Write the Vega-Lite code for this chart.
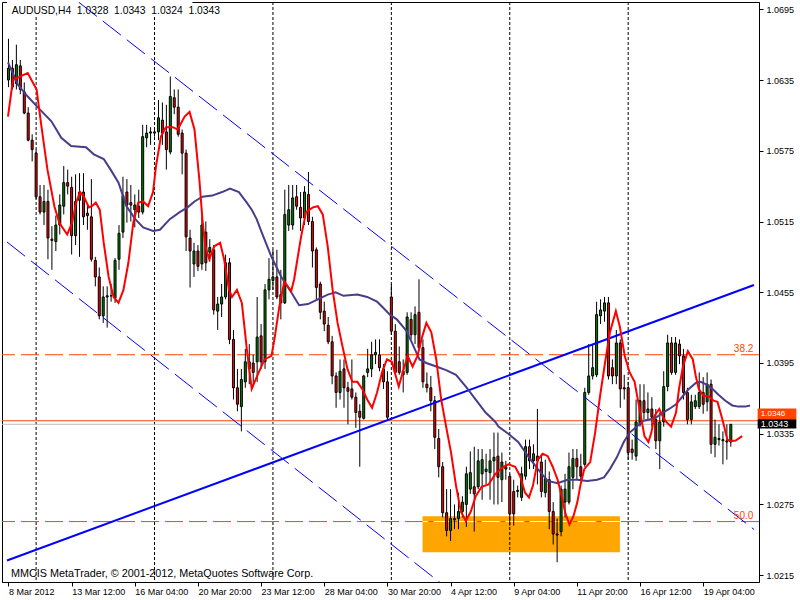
{
"$schema":"https://vega.github.io/schema/vega-lite/v6.json",
"width":757,"height":580,
"autosize":{"type":"none"},
"padding":{"left":2,"top":2,"right":41,"bottom":18},
"background":"white",
"config":{"view":{"stroke":"black","strokeWidth":1},
 "axisX":{"orient":"bottom","labelExpr":"['8 Mar 2012','13 Mar 12:00','16 Mar 04:00','20 Mar 20:00','23 Mar 12:00','28 Mar 04:00','30 Mar 20:00','4 Apr 12:00','9 Apr 04:00','11 Apr 20:00','16 Apr 12:00','19 Apr 04:00'][round(datum.value/16)]","labelAlign":"left","labelBaseline":"top","labelPadding":1,"tickSize":4,"tickColor":"black","domainColor":"black","labelColor":"black","labelFont":"Liberation Sans","labelFontSize":9,"grid":false,"title":null,"labelOverlap":false,"labelFlush":false,"labelBound":false},
 "axisY":{"orient":"right","format":".4f","tickSize":4,"labelPadding":3,"labelFontSize":9,"labelFont":"Liberation Sans","labelColor":"black","tickColor":"black","domainColor":"black","grid":false,"title":null,"labelOverlap":false,"labelFlush":false,"labelBound":false}
},
"datasets":{
"zone":[{"i":104.9,"i2":154.9,"v":1.0265,"v2":1.02345}],
"vgrid":[{"i":7},{"i":37},{"i":67},{"i":97},{"i":127},{"i":157}],
"hdrbg":[{"i":-0.375,"i2":46.6,"v":1.06898,"v2":1.070119}],
"fib":[{"v":1.0402},{"v":1.02605}],
"fibwhite":[{"i":104.9,"i2":154.9,"v":1.02605}],
"quote":[{"k":"ask","v":1.0346},{"k":"bid","v":1.0343}],
"channel":[{"g":"u","i":17.8,"v":1.0701},{"g":"u","i":188.875,"v":1.02538},{"g":"l","i":-0.375,"v":1.04976},{"g":"l","i":110,"v":1.0207}],
"trend":[{"i":-0.375,"v":1.02275},{"i":188.875,"v":1.04612}],
"candles":[
{"i":0,"o":1.0635,"h":1.0670,"l":1.0629,"c":1.0645},
{"i":1,"o":1.0645,"h":1.0652,"l":1.0627,"c":1.0629},
{"i":2,"o":1.0632,"h":1.0665,"l":1.0627,"c":1.0648},
{"i":3,"o":1.0647,"h":1.0652,"l":1.0623,"c":1.0627},
{"i":4,"o":1.0625,"h":1.0633,"l":1.0606,"c":1.0607},
{"i":5,"o":1.0607,"h":1.0612,"l":1.0583,"c":1.0584},
{"i":6,"o":1.0584,"h":1.0589,"l":1.0566,"c":1.0576},
{"i":7,"o":1.0573,"h":1.0576,"l":1.0534,"c":1.0536},
{"i":8,"o":1.0536,"h":1.0546,"l":1.0521,"c":1.0523},
{"i":9,"o":1.0523,"h":1.0546,"l":1.0512,"c":1.0532},
{"i":10,"o":1.0532,"h":1.0542,"l":1.0483,"c":1.0501},
{"i":11,"o":1.0500,"h":1.0511,"l":1.0474,"c":1.0499},
{"i":12,"o":1.0498,"h":1.0520,"l":1.0490,"c":1.0512},
{"i":13,"o":1.0512,"h":1.0538,"l":1.0504,"c":1.0529},
{"i":14,"o":1.0528,"h":1.0562,"l":1.0521,"c":1.0548},
{"i":15,"o":1.0548,"h":1.0559,"l":1.0538,"c":1.0545},
{"i":16,"o":1.0544,"h":1.0553,"l":1.0487,"c":1.0503},
{"i":17,"o":1.0503,"h":1.0555,"l":1.0495,"c":1.0532},
{"i":18,"o":1.0533,"h":1.0556,"l":1.0485,"c":1.0540},
{"i":19,"o":1.0540,"h":1.0556,"l":1.0512,"c":1.0519},
{"i":20,"o":1.0522,"h":1.0529,"l":1.0508,"c":1.0520},
{"i":21,"o":1.0519,"h":1.0551,"l":1.0481,"c":1.0483},
{"i":22,"o":1.0482,"h":1.0485,"l":1.0460,"c":1.0468},
{"i":23,"o":1.0468,"h":1.0476,"l":1.0432,"c":1.0435},
{"i":24,"o":1.0435,"h":1.0460,"l":1.0429,"c":1.0451},
{"i":25,"o":1.0452,"h":1.0460,"l":1.0425,"c":1.0451},
{"i":26,"o":1.0452,"h":1.0462,"l":1.0447,"c":1.0452},
{"i":27,"o":1.0450,"h":1.0484,"l":1.0446,"c":1.0482},
{"i":28,"o":1.0483,"h":1.0512,"l":1.0474,"c":1.0505},
{"i":29,"o":1.0506,"h":1.0553,"l":1.0501,"c":1.0537},
{"i":30,"o":1.0540,"h":1.0551,"l":1.0514,"c":1.0529},
{"i":31,"o":1.0531,"h":1.0546,"l":1.0515,"c":1.0529},
{"i":32,"o":1.0525,"h":1.0538,"l":1.0510,"c":1.0529},
{"i":33,"o":1.0528,"h":1.0542,"l":1.0518,"c":1.0523},
{"i":34,"o":1.0523,"h":1.0597,"l":1.0521,"c":1.0587},
{"i":35,"o":1.0586,"h":1.0597,"l":1.0578,"c":1.0590},
{"i":36,"o":1.0590,"h":1.0595,"l":1.0580,"c":1.0591},
{"i":37,"o":1.0591,"h":1.0595,"l":1.0587,"c":1.0590},
{"i":38,"o":1.0591,"h":1.0618,"l":1.0584,"c":1.0603},
{"i":39,"o":1.0601,"h":1.0616,"l":1.0580,"c":1.0590},
{"i":40,"o":1.0591,"h":1.0614,"l":1.0559,"c":1.0576},
{"i":41,"o":1.0574,"h":1.0638,"l":1.0572,"c":1.0621},
{"i":42,"o":1.0620,"h":1.0627,"l":1.0606,"c":1.0612},
{"i":43,"o":1.0612,"h":1.0627,"l":1.0587,"c":1.0589},
{"i":44,"o":1.0590,"h":1.0593,"l":1.0555,"c":1.0573},
{"i":45,"o":1.0573,"h":1.0576,"l":1.0490,"c":1.0502},
{"i":46,"o":1.0501,"h":1.0508,"l":1.0459,"c":1.0490},
{"i":47,"o":1.0479,"h":1.0497,"l":1.0468,"c":1.0490},
{"i":48,"o":1.0490,"h":1.0495,"l":1.0473,"c":1.0477},
{"i":49,"o":1.0479,"h":1.0519,"l":1.0474,"c":1.0512},
{"i":50,"o":1.0506,"h":1.0515,"l":1.0473,"c":1.0480},
{"i":51,"o":1.0489,"h":1.0500,"l":1.0481,"c":1.0493},
{"i":52,"o":1.0491,"h":1.0495,"l":1.0436,"c":1.0440},
{"i":53,"o":1.0439,"h":1.0451,"l":1.0423,"c":1.0445},
{"i":54,"o":1.0445,"h":1.0462,"l":1.0434,"c":1.0451},
{"i":55,"o":1.0451,"h":1.0487,"l":1.0449,"c":1.0480},
{"i":56,"o":1.0480,"h":1.0484,"l":1.0411,"c":1.0415},
{"i":57,"o":1.0415,"h":1.0423,"l":1.0364,"c":1.0374},
{"i":58,"o":1.0374,"h":1.0390,"l":1.0354,"c":1.0360},
{"i":59,"o":1.0358,"h":1.0390,"l":1.0337,"c":1.0381},
{"i":60,"o":1.0379,"h":1.0407,"l":1.0374,"c":1.0396},
{"i":61,"o":1.0390,"h":1.0411,"l":1.0377,"c":1.0396},
{"i":62,"o":1.0395,"h":1.0402,"l":1.0375,"c":1.0387},
{"i":63,"o":1.0396,"h":1.0451,"l":1.0379,"c":1.0417},
{"i":64,"o":1.0418,"h":1.0428,"l":1.0390,"c":1.0396},
{"i":65,"o":1.0396,"h":1.0462,"l":1.0390,"c":1.0457},
{"i":66,"o":1.0457,"h":1.0484,"l":1.0449,"c":1.0466},
{"i":67,"o":1.0465,"h":1.0491,"l":1.0457,"c":1.0468},
{"i":68,"o":1.0468,"h":1.0491,"l":1.0449,"c":1.0451},
{"i":69,"o":1.0453,"h":1.0474,"l":1.0432,"c":1.0446},
{"i":70,"o":1.0446,"h":1.0542,"l":1.0445,"c":1.0521},
{"i":71,"o":1.0512,"h":1.0546,"l":1.0507,"c":1.0525},
{"i":72,"o":1.0512,"h":1.0546,"l":1.0508,"c":1.0535},
{"i":73,"o":1.0536,"h":1.0546,"l":1.0525,"c":1.0528},
{"i":74,"o":1.0527,"h":1.0540,"l":1.0507,"c":1.0518},
{"i":75,"o":1.0518,"h":1.0545,"l":1.0512,"c":1.0540},
{"i":76,"o":1.0538,"h":1.0557,"l":1.0512,"c":1.0515},
{"i":77,"o":1.0515,"h":1.0519,"l":1.0476,"c":1.0490},
{"i":78,"o":1.0491,"h":1.0493,"l":1.0449,"c":1.0459},
{"i":79,"o":1.0462,"h":1.0464,"l":1.0432,"c":1.0438},
{"i":80,"o":1.0439,"h":1.0447,"l":1.0422,"c":1.0428},
{"i":81,"o":1.0427,"h":1.0434,"l":1.0411,"c":1.0413},
{"i":82,"o":1.0413,"h":1.0418,"l":1.0377,"c":1.0384},
{"i":83,"o":1.0384,"h":1.0387,"l":1.0357,"c":1.0370},
{"i":84,"o":1.0370,"h":1.0398,"l":1.0364,"c":1.0388},
{"i":85,"o":1.0390,"h":1.0398,"l":1.0357,"c":1.0374},
{"i":86,"o":1.0374,"h":1.0379,"l":1.0343,"c":1.0371},
{"i":87,"o":1.0373,"h":1.0398,"l":1.0364,"c":1.0366},
{"i":88,"o":1.0366,"h":1.0370,"l":1.0340,"c":1.0353},
{"i":89,"o":1.0354,"h":1.0360,"l":1.0307,"c":1.0349},
{"i":90,"o":1.0348,"h":1.0385,"l":1.0347,"c":1.0384},
{"i":91,"o":1.0387,"h":1.0407,"l":1.0383,"c":1.0390},
{"i":92,"o":1.0390,"h":1.0413,"l":1.0383,"c":1.0402},
{"i":93,"o":1.0402,"h":1.0415,"l":1.0394,"c":1.0404},
{"i":94,"o":1.0402,"h":1.0415,"l":1.0388,"c":1.0391},
{"i":95,"o":1.0390,"h":1.0394,"l":1.0373,"c":1.0379},
{"i":96,"o":1.0379,"h":1.0388,"l":1.0347,"c":1.0349},
{"i":97,"o":1.0451,"h":1.0462,"l":1.0419,"c":1.0422},
{"i":98,"o":1.0422,"h":1.0428,"l":1.0385,"c":1.0387},
{"i":99,"o":1.0396,"h":1.0409,"l":1.0385,"c":1.0387},
{"i":100,"o":1.0388,"h":1.0398,"l":1.0370,"c":1.0385},
{"i":101,"o":1.0387,"h":1.0438,"l":1.0385,"c":1.0434},
{"i":102,"o":1.0432,"h":1.0438,"l":1.0415,"c":1.0419},
{"i":103,"o":1.0419,"h":1.0443,"l":1.0411,"c":1.0436},
{"i":104,"o":1.0438,"h":1.0466,"l":1.0407,"c":1.0408},
{"i":105,"o":1.0408,"h":1.0415,"l":1.0374,"c":1.0379},
{"i":106,"o":1.0377,"h":1.0387,"l":1.0370,"c":1.0374},
{"i":107,"o":1.0374,"h":1.0384,"l":1.0354,"c":1.0363},
{"i":108,"o":1.0363,"h":1.0367,"l":1.0322,"c":1.0332},
{"i":109,"o":1.0331,"h":1.0339,"l":1.0298,"c":1.0307},
{"i":110,"o":1.0307,"h":1.0311,"l":1.0264,"c":1.0268},
{"i":111,"o":1.0268,"h":1.0288,"l":1.0248,"c":1.0253},
{"i":112,"o":1.0253,"h":1.0288,"l":1.0244,"c":1.0263},
{"i":113,"o":1.0263,"h":1.0275,"l":1.0254,"c":1.0262},
{"i":114,"o":1.0263,"h":1.0285,"l":1.0254,"c":1.0269},
{"i":115,"o":1.0269,"h":1.0282,"l":1.0264,"c":1.0277},
{"i":116,"o":1.0275,"h":1.0307,"l":1.0256,"c":1.0301},
{"i":117,"o":1.0288,"h":1.0320,"l":1.0284,"c":1.0302},
{"i":118,"o":1.0290,"h":1.0324,"l":1.0252,"c":1.0284},
{"i":119,"o":1.0290,"h":1.0322,"l":1.0288,"c":1.0312},
{"i":120,"o":1.0301,"h":1.0322,"l":1.0279,"c":1.0313},
{"i":121,"o":1.0303,"h":1.0318,"l":1.0292,"c":1.0305},
{"i":122,"o":1.0302,"h":1.0322,"l":1.0279,"c":1.0312},
{"i":123,"o":1.0312,"h":1.0336,"l":1.0275,"c":1.0315},
{"i":124,"o":1.0316,"h":1.0336,"l":1.0275,"c":1.0298},
{"i":125,"o":1.0296,"h":1.0319,"l":1.0277,"c":1.0311},
{"i":126,"o":1.0307,"h":1.0312,"l":1.0296,"c":1.0305},
{"i":127,"o":1.0299,"h":1.0301,"l":1.0257,"c":1.0267},
{"i":128,"o":1.0286,"h":1.0296,"l":1.0257,"c":1.0267},
{"i":129,"o":1.0286,"h":1.0291,"l":1.0281,"c":1.0287},
{"i":130,"o":1.0281,"h":1.0307,"l":1.0278,"c":1.0301},
{"i":131,"o":1.0299,"h":1.0330,"l":1.0296,"c":1.0324},
{"i":132,"o":1.0324,"h":1.0330,"l":1.0305,"c":1.0312},
{"i":133,"o":1.0312,"h":1.0326,"l":1.0305,"c":1.0318},
{"i":134,"o":1.0316,"h":1.0356,"l":1.0292,"c":1.0312},
{"i":135,"o":1.0311,"h":1.0318,"l":1.0281,"c":1.0286},
{"i":136,"o":1.0285,"h":1.0313,"l":1.0281,"c":1.0297},
{"i":137,"o":1.0296,"h":1.0303,"l":1.0254,"c":1.0269},
{"i":138,"o":1.0269,"h":1.0277,"l":1.0241,"c":1.0250},
{"i":139,"o":1.0250,"h":1.0263,"l":1.0226,"c":1.0249},
{"i":140,"o":1.0252,"h":1.0291,"l":1.0248,"c":1.0288},
{"i":141,"o":1.0277,"h":1.0301,"l":1.0264,"c":1.0288},
{"i":142,"o":1.0277,"h":1.0319,"l":1.0275,"c":1.0307},
{"i":143,"o":1.0298,"h":1.0322,"l":1.0288,"c":1.0314},
{"i":144,"o":1.0314,"h":1.0322,"l":1.0296,"c":1.0307},
{"i":145,"o":1.0307,"h":1.0318,"l":1.0295,"c":1.0299},
{"i":146,"o":1.0309,"h":1.0374,"l":1.0307,"c":1.0370},
{"i":147,"o":1.0370,"h":1.0411,"l":1.0368,"c":1.0384},
{"i":148,"o":1.0384,"h":1.0411,"l":1.0381,"c":1.0391},
{"i":149,"o":1.0385,"h":1.0447,"l":1.0383,"c":1.0436},
{"i":150,"o":1.0435,"h":1.0449,"l":1.0428,"c":1.0440},
{"i":151,"o":1.0439,"h":1.0451,"l":1.0430,"c":1.0446},
{"i":152,"o":1.0446,"h":1.0451,"l":1.0381,"c":1.0384},
{"i":153,"o":1.0391,"h":1.0398,"l":1.0377,"c":1.0384},
{"i":154,"o":1.0384,"h":1.0423,"l":1.0377,"c":1.0412},
{"i":155,"o":1.0412,"h":1.0415,"l":1.0357,"c":1.0373},
{"i":156,"o":1.0374,"h":1.0385,"l":1.0364,"c":1.0373},
{"i":157,"o":1.0374,"h":1.0379,"l":1.0313,"c":1.0319},
{"i":158,"o":1.0322,"h":1.0330,"l":1.0313,"c":1.0319},
{"i":159,"o":1.0316,"h":1.0364,"l":1.0312,"c":1.0345},
{"i":160,"o":1.0343,"h":1.0377,"l":1.0341,"c":1.0363},
{"i":161,"o":1.0363,"h":1.0377,"l":1.0347,"c":1.0353},
{"i":162,"o":1.0353,"h":1.0370,"l":1.0347,"c":1.0356},
{"i":163,"o":1.0356,"h":1.0366,"l":1.0341,"c":1.0349},
{"i":164,"o":1.0347,"h":1.0356,"l":1.0322,"c":1.0329},
{"i":165,"o":1.0329,"h":1.0353,"l":1.0305,"c":1.0345},
{"i":166,"o":1.0345,"h":1.0388,"l":1.0341,"c":1.0375},
{"i":167,"o":1.0375,"h":1.0419,"l":1.0371,"c":1.0412},
{"i":168,"o":1.0412,"h":1.0417,"l":1.0385,"c":1.0387},
{"i":169,"o":1.0387,"h":1.0417,"l":1.0385,"c":1.0412},
{"i":170,"o":1.0411,"h":1.0415,"l":1.0394,"c":1.0401},
{"i":171,"o":1.0401,"h":1.0407,"l":1.0364,"c":1.0370},
{"i":172,"o":1.0370,"h":1.0374,"l":1.0343,"c":1.0347},
{"i":173,"o":1.0347,"h":1.0368,"l":1.0343,"c":1.0362},
{"i":174,"o":1.0358,"h":1.0368,"l":1.0356,"c":1.0363},
{"i":175,"o":1.0358,"h":1.0387,"l":1.0356,"c":1.0370},
{"i":176,"o":1.0370,"h":1.0383,"l":1.0352,"c":1.0360},
{"i":177,"o":1.0362,"h":1.0387,"l":1.0354,"c":1.0377},
{"i":178,"o":1.0377,"h":1.0381,"l":1.0318,"c":1.0326},
{"i":179,"o":1.0326,"h":1.0347,"l":1.0315,"c":1.0332},
{"i":180,"o":1.0330,"h":1.0343,"l":1.0325,"c":1.0331},
{"i":181,"o":1.0329,"h":1.0337,"l":1.0309,"c":1.0330},
{"i":182,"o":1.0329,"h":1.0343,"l":1.0313,"c":1.0328},
{"i":183,"o":1.0328,"h":1.0343,"l":1.0324,"c":1.0343}
],
"fast":[{"i":-0.125,"v":1.0604},{"i":1.125,"v":1.0635},{"i":4.875,"v":1.0641},{"i":7.125,"v":1.0627},{"i":8.375,"v":1.0595},{"i":9.875,"v":1.0559},{"i":11.625,"v":1.0528},{"i":12.875,"v":1.0514},{"i":14.875,"v":1.0504},{"i":16.125,"v":1.0514},{"i":17.125,"v":1.0531},{"i":18.125,"v":1.0540},{"i":19.125,"v":1.0536},{"i":20.375,"v":1.0527},{"i":21.125,"v":1.0528},{"i":22.125,"v":1.0531},{"i":23.125,"v":1.0525},{"i":24.125,"v":1.0497},{"i":25.375,"v":1.0468},{"i":26.625,"v":1.0451},{"i":27.875,"v":1.0446},{"i":29.125,"v":1.0457},{"i":30.375,"v":1.0480},{"i":31.625,"v":1.0514},{"i":32.875,"v":1.0531},{"i":34.125,"v":1.0532},{"i":35.375,"v":1.0528},{"i":36.625,"v":1.0540},{"i":37.375,"v":1.0562},{"i":38.625,"v":1.0587},{"i":39.875,"v":1.0595},{"i":41.625,"v":1.0595},{"i":42.875,"v":1.0593},{"i":44.625,"v":1.0604},{"i":45.875,"v":1.0608},{"i":47.125,"v":1.0593},{"i":48.375,"v":1.0550},{"i":49.125,"v":1.0517},{"i":49.875,"v":1.0494},{"i":50.875,"v":1.0483},{"i":52.125,"v":1.0494},{"i":53.625,"v":1.0497},{"i":54.625,"v":1.0483},{"i":55.875,"v":1.0457},{"i":56.625,"v":1.0451},{"i":57.875,"v":1.0457},{"i":59.125,"v":1.0446},{"i":60.375,"v":1.0407},{"i":61.625,"v":1.0373},{"i":62.875,"v":1.0383},{"i":64.875,"v":1.0398},{"i":66.625,"v":1.0401},{"i":67.375,"v":1.0415},{"i":68.625,"v":1.0443},{"i":69.875,"v":1.0464},{"i":71.625,"v":1.0456},{"i":72.375,"v":1.0466},{"i":74.125,"v":1.0502},{"i":75.375,"v":1.0523},{"i":77.125,"v":1.0527},{"i":78.375,"v":1.0528},{"i":79.625,"v":1.0521},{"i":80.875,"v":1.0494},{"i":82.125,"v":1.0457},{"i":83.375,"v":1.0429},{"i":84.625,"v":1.0409},{"i":85.875,"v":1.0390},{"i":87.125,"v":1.0379},{"i":88.375,"v":1.0379},{"i":89.625,"v":1.0373},{"i":90.875,"v":1.0364},{"i":92.125,"v":1.0357},{"i":93.375,"v":1.0370},{"i":94.625,"v":1.0387},{"i":95.875,"v":1.0398},{"i":97.125,"v":1.0396},{"i":97.875,"v":1.0387},{"i":98.875,"v":1.0375},{"i":99.875,"v":1.0387},{"i":101.125,"v":1.0401},{"i":102.375,"v":1.0392},{"i":103.625,"v":1.0401},{"i":104.875,"v":1.0418},{"i":105.875,"v":1.0429},{"i":107.125,"v":1.0421},{"i":108.375,"v":1.0398},{"i":109.625,"v":1.0364},{"i":110.875,"v":1.0341},{"i":112.125,"v":1.0319},{"i":113.375,"v":1.0291},{"i":114.625,"v":1.0269},{"i":115.875,"v":1.0261},{"i":117.125,"v":1.0269},{"i":118.375,"v":1.0282},{"i":119.875,"v":1.0290},{"i":121.625,"v":1.0292},{"i":123.375,"v":1.0301},{"i":125.375,"v":1.0307},{"i":126.625,"v":1.0309},{"i":128.375,"v":1.0307},{"i":129.625,"v":1.0299},{"i":130.875,"v":1.0285},{"i":131.875,"v":1.0281},{"i":132.875,"v":1.0291},{"i":134.125,"v":1.0313},{"i":135.375,"v":1.0318},{"i":136.625,"v":1.0316},{"i":137.875,"v":1.0307},{"i":139.125,"v":1.0296},{"i":140.375,"v":1.0279},{"i":141.125,"v":1.0267},{"i":142.125,"v":1.0258},{"i":143.125,"v":1.0265},{"i":144.125,"v":1.0277},{"i":144.875,"v":1.0291},{"i":145.875,"v":1.0305},{"i":147.375,"v":1.0311},{"i":148.625,"v":1.0336},{"i":149.875,"v":1.0367},{"i":151.125,"v":1.0395},{"i":152.375,"v":1.0421},{"i":153.875,"v":1.0439},{"i":154.875,"v":1.0426},{"i":156.125,"v":1.0401},{"i":157.375,"v":1.0387},{"i":158.625,"v":1.0379},{"i":159.875,"v":1.0356},{"i":161.125,"v":1.0333},{"i":162.125,"v":1.0328},{"i":162.875,"v":1.0336},{"i":163.625,"v":1.0350},{"i":164.875,"v":1.0356},{"i":165.875,"v":1.0349},{"i":166.625,"v":1.0345},{"i":167.875,"v":1.0341},{"i":169.125,"v":1.0353},{"i":169.875,"v":1.0373},{"i":170.875,"v":1.0392},{"i":172.125,"v":1.0405},{"i":173.375,"v":1.0398},{"i":174.125,"v":1.0384},{"i":174.875,"v":1.0373},{"i":176.125,"v":1.0367},{"i":177.375,"v":1.0367},{"i":178.625,"v":1.0363},{"i":179.625,"v":1.0362},{"i":180.875,"v":1.0347},{"i":182.125,"v":1.0330},{"i":182.875,"v":1.0329},{"i":184.125,"v":1.0329},{"i":185.875,"v":1.0333}],
"slow":[{"i":-0.125,"v":1.0650},{"i":2.375,"v":1.0631},{"i":4.875,"v":1.0621},{"i":7.375,"v":1.0612},{"i":10.875,"v":1.0600},{"i":13.375,"v":1.0586},{"i":15.875,"v":1.0579},{"i":19.625,"v":1.0578},{"i":21.625,"v":1.0572},{"i":24.125,"v":1.0568},{"i":25.875,"v":1.0559},{"i":27.875,"v":1.0548},{"i":29.875,"v":1.0528},{"i":32.125,"v":1.0517},{"i":34.125,"v":1.0510},{"i":36.625,"v":1.0507},{"i":38.375,"v":1.0508},{"i":40.875,"v":1.0517},{"i":43.375,"v":1.0523},{"i":45.375,"v":1.0527},{"i":47.125,"v":1.0532},{"i":49.125,"v":1.0536},{"i":51.625,"v":1.0537},{"i":54.125,"v":1.0540},{"i":56.125,"v":1.0543},{"i":58.375,"v":1.0540},{"i":60.375,"v":1.0531},{"i":61.625,"v":1.0525},{"i":62.875,"v":1.0517},{"i":64.125,"v":1.0506},{"i":66.625,"v":1.0485},{"i":69.125,"v":1.0468},{"i":71.625,"v":1.0455},{"i":73.625,"v":1.0444},{"i":75.875,"v":1.0445},{"i":78.375,"v":1.0449},{"i":80.875,"v":1.0453},{"i":82.875,"v":1.0455},{"i":84.875,"v":1.0452},{"i":88.375,"v":1.0453},{"i":90.875,"v":1.0451},{"i":93.375,"v":1.0447},{"i":94.875,"v":1.0442},{"i":96.625,"v":1.0436},{"i":98.375,"v":1.0432},{"i":100.875,"v":1.0422},{"i":102.375,"v":1.0411},{"i":104.125,"v":1.0398},{"i":105.875,"v":1.0395},{"i":108.375,"v":1.0392},{"i":110.875,"v":1.0389},{"i":113.375,"v":1.0385},{"i":115.875,"v":1.0375},{"i":118.375,"v":1.0364},{"i":120.875,"v":1.0353},{"i":123.375,"v":1.0345},{"i":124.125,"v":1.0341},{"i":126.625,"v":1.0335},{"i":129.125,"v":1.0328},{"i":131.625,"v":1.0316},{"i":134.125,"v":1.0305},{"i":136.625,"v":1.0295},{"i":139.125,"v":1.0293},{"i":141.625,"v":1.0296},{"i":144.125,"v":1.0296},{"i":146.625,"v":1.0295},{"i":149.125,"v":1.0296},{"i":150.875,"v":1.0298},{"i":152.375,"v":1.0305},{"i":154.125,"v":1.0315},{"i":155.875,"v":1.0328},{"i":157.375,"v":1.0336},{"i":159.125,"v":1.0341},{"i":160.875,"v":1.0346},{"i":162.375,"v":1.0347},{"i":164.125,"v":1.0349},{"i":165.875,"v":1.0353},{"i":167.375,"v":1.0356},{"i":169.125,"v":1.0360},{"i":170.875,"v":1.0367},{"i":172.375,"v":1.0373},{"i":174.125,"v":1.0378},{"i":175.375,"v":1.0379},{"i":176.625,"v":1.0377},{"i":178.375,"v":1.0373},{"i":179.875,"v":1.0368},{"i":181.625,"v":1.0363},{"i":183.375,"v":1.0359},{"i":184.875,"v":1.0358},{"i":186.625,"v":1.0358},{"i":187.875,"v":1.0359}],
"fiblabels":[{"i":188.7,"v":1.04065,"t":"38.2"},{"i":188.7,"v":1.02653,"t":"50.0"}],
"header":[{"i":0.8,"v":1.06938,"t":"AUDUSD,H4\u00a0\u00a01.0328\u00a0\u00a01.0343\u00a0\u00a01.0324\u00a0\u00a01.0343"}],
"footer":[{"i":0.625,"v":1.0216,"t":"MMCIS MetaTrader, © 2001-2012, MetaQuotes Software Corp."}],
"askbox":[{"i":189.8,"i2":199.6,"v":1.03565,"v2":1.03472}],
"askText":[{"i":190.6,"v":1.03519,"t":"1.0346"}],
"bidbox":[{"i":189.8,"i2":199.6,"v":1.03472,"v2":1.03395}],
"bidText":[{"i":190.6,"v":1.03434,"t":"1.0343"}]
},
"layer":[
{"data":{"name":"zone"},"mark":{"type":"rect","color":"#FFA500"},
 "encoding":{
  "x":{"field":"i","type":"quantitative","scale":{"domain":[-0.375,188.875],"nice":false,"zero":false},"axis":{"title":null,"values":[0,16,32,48,64,80,96,112,128,144,160,176]}},
  "x2":{"field":"i2"},
  "y":{"field":"v","type":"quantitative","scale":{"domain":[1.020924,1.070119],"nice":false,"zero":false},"axis":{"title":null,"format":".4f","values":[1.0215,1.0245,1.0275,1.0305,1.0335,1.0365,1.0395,1.0425,1.0455,1.0485,1.0515,1.0545,1.0575,1.0605,1.0635,1.0665,1.0695]}},
  "y2":{"field":"v2"}}},
{"data":{"name":"vgrid"},"mark":{"type":"rule","color":"black","strokeWidth":1,"strokeDash":[3,2]},
 "encoding":{"x":{"field":"i","type":"quantitative","scale":{"domain":[-0.375,188.875],"nice":false,"zero":false},"axis":{"title":null}}}},
{"data":{"name":"hdrbg"},"mark":{"type":"rect","color":"white"},
 "encoding":{"x":{"field":"i","type":"quantitative","scale":{"domain":[-0.375,188.875],"nice":false,"zero":false},"axis":{"title":null}},"x2":{"field":"i2"},
  "y":{"field":"v","type":"quantitative","scale":{"domain":[1.020924,1.070119],"nice":false,"zero":false},"axis":{"title":null}},"y2":{"field":"v2"}}},
{"data":{"name":"fib"},"mark":{"type":"rule","color":"#FF4500","strokeWidth":1,"strokeDash":[18,6]},
 "encoding":{"y":{"field":"v","type":"quantitative","scale":{"domain":[1.020924,1.070119],"nice":false,"zero":false},"axis":{"title":null}}}},
{"data":{"name":"fibwhite"},"mark":{"type":"rule","color":"white","strokeWidth":1,"strokeDash":[18,6],"strokeDashOffset":13},
 "encoding":{"x":{"field":"i","type":"quantitative","scale":{"domain":[-0.375,188.875],"nice":false,"zero":false},"axis":{"title":null}},"x2":{"field":"i2"},
  "y":{"field":"v","type":"quantitative","scale":{"domain":[1.020924,1.070119],"nice":false,"zero":false},"axis":{"title":null}}}},
{"data":{"name":"quote"},"mark":{"type":"rule","strokeWidth":1},
 "encoding":{"y":{"field":"v","type":"quantitative","scale":{"domain":[1.020924,1.070119],"nice":false,"zero":false},"axis":{"title":null}},
  "color":{"field":"k","type":"nominal","scale":{"domain":["ask","bid"],"range":["#FF4500","#C0C0C0"]},"legend":null}}},
{"data":{"name":"candles"},"mark":{"type":"rule","color":"black","strokeWidth":1},
 "encoding":{"x":{"field":"i","type":"quantitative","scale":{"domain":[-0.375,188.875],"nice":false,"zero":false},"axis":{"title":null}},
  "y":{"field":"l","type":"quantitative","scale":{"domain":[1.020924,1.070119],"nice":false,"zero":false},"axis":{"title":null}},"y2":{"field":"h"}}},
{"data":{"name":"candles"},"mark":{"type":"bar","size":2,"stroke":"black","strokeWidth":1},
 "encoding":{"x":{"field":"i","type":"quantitative","scale":{"domain":[-0.375,188.875],"nice":false,"zero":false},"axis":{"title":null}},
  "y":{"field":"o","type":"quantitative","scale":{"domain":[1.020924,1.070119],"nice":false,"zero":false},"axis":{"title":null}},"y2":{"field":"c"},
  "fill":{"condition":{"test":"datum.c >= datum.o","value":"#008000"},"value":"#FF0000"}}},
{"data":{"name":"channel"},"mark":{"type":"line","color":"#0000FF","strokeWidth":1,"strokeDash":[23,7.5],"clip":true},
 "encoding":{"x":{"field":"i","type":"quantitative","scale":{"domain":[-0.375,188.875],"nice":false,"zero":false},"axis":{"title":null}},
  "y":{"field":"v","type":"quantitative","scale":{"domain":[1.020924,1.070119],"nice":false,"zero":false},"axis":{"title":null}},"detail":{"field":"g"}}},
{"data":{"name":"trend"},"mark":{"type":"line","color":"#0000FF","strokeWidth":2,"clip":true},
 "encoding":{"x":{"field":"i","type":"quantitative","scale":{"domain":[-0.375,188.875],"nice":false,"zero":false},"axis":{"title":null}},
  "y":{"field":"v","type":"quantitative","scale":{"domain":[1.020924,1.070119],"nice":false,"zero":false},"axis":{"title":null}}}},
{"data":{"name":"slow"},"mark":{"type":"line","color":"#483D8B","strokeWidth":2,"clip":true},
 "encoding":{"x":{"field":"i","type":"quantitative","scale":{"domain":[-0.375,188.875],"nice":false,"zero":false},"axis":{"title":null}},
  "y":{"field":"v","type":"quantitative","scale":{"domain":[1.020924,1.070119],"nice":false,"zero":false},"axis":{"title":null}}}},
{"data":{"name":"fast"},"mark":{"type":"line","color":"#FF0000","strokeWidth":2,"clip":true},
 "encoding":{"x":{"field":"i","type":"quantitative","scale":{"domain":[-0.375,188.875],"nice":false,"zero":false},"axis":{"title":null}},
  "y":{"field":"v","type":"quantitative","scale":{"domain":[1.020924,1.070119],"nice":false,"zero":false},"axis":{"title":null}}}},
{"data":{"name":"fiblabels"},"mark":{"type":"text","align":"right","baseline":"middle","color":"#FF4500","font":"Liberation Sans","fontSize":10},
 "encoding":{"x":{"field":"i","type":"quantitative","scale":{"domain":[-0.375,188.875],"nice":false,"zero":false},"axis":{"title":null}},
  "y":{"field":"v","type":"quantitative","scale":{"domain":[1.020924,1.070119],"nice":false,"zero":false},"axis":{"title":null}},"text":{"field":"t"}}},
{"data":{"name":"header"},"mark":{"type":"text","align":"left","baseline":"middle","color":"black","font":"Liberation Sans","fontSize":10.3},
 "encoding":{"x":{"field":"i","type":"quantitative","scale":{"domain":[-0.375,188.875],"nice":false,"zero":false},"axis":{"title":null}},
  "y":{"field":"v","type":"quantitative","scale":{"domain":[1.020924,1.070119],"nice":false,"zero":false},"axis":{"title":null}},"text":{"field":"t"}}},
{"data":{"name":"footer"},"mark":{"type":"text","align":"left","baseline":"middle","color":"black","font":"Liberation Sans","fontSize":10.8},
 "encoding":{"x":{"field":"i","type":"quantitative","scale":{"domain":[-0.375,188.875],"nice":false,"zero":false},"axis":{"title":null}},
  "y":{"field":"v","type":"quantitative","scale":{"domain":[1.020924,1.070119],"nice":false,"zero":false},"axis":{"title":null}},"text":{"field":"t"}}},
{"data":{"name":"askbox"},"mark":{"type":"rect","color":"#FF4500"},
 "encoding":{"x":{"field":"i","type":"quantitative","scale":{"domain":[-0.375,188.875],"nice":false,"zero":false},"axis":{"title":null}},"x2":{"field":"i2"},
  "y":{"field":"v","type":"quantitative","scale":{"domain":[1.020924,1.070119],"nice":false,"zero":false},"axis":{"title":null}},"y2":{"field":"v2"}}},
{"data":{"name":"askText"},"mark":{"type":"text","align":"left","baseline":"middle","color":"white","font":"Liberation Sans","fontSize":8},
 "encoding":{"x":{"field":"i","type":"quantitative","scale":{"domain":[-0.375,188.875],"nice":false,"zero":false},"axis":{"title":null}},
  "y":{"field":"v","type":"quantitative","scale":{"domain":[1.020924,1.070119],"nice":false,"zero":false},"axis":{"title":null}},"text":{"field":"t"}}},
{"data":{"name":"bidbox"},"mark":{"type":"rect","color":"black"},
 "encoding":{"x":{"field":"i","type":"quantitative","scale":{"domain":[-0.375,188.875],"nice":false,"zero":false},"axis":{"title":null}},"x2":{"field":"i2"},
  "y":{"field":"v","type":"quantitative","scale":{"domain":[1.020924,1.070119],"nice":false,"zero":false},"axis":{"title":null}},"y2":{"field":"v2"}}},
{"data":{"name":"bidText"},"mark":{"type":"text","align":"left","baseline":"middle","color":"white","font":"Liberation Sans","fontSize":9},
 "encoding":{"x":{"field":"i","type":"quantitative","scale":{"domain":[-0.375,188.875],"nice":false,"zero":false},"axis":{"title":null}},
  "y":{"field":"v","type":"quantitative","scale":{"domain":[1.020924,1.070119],"nice":false,"zero":false},"axis":{"title":null}},"text":{"field":"t"}}}
]
}
